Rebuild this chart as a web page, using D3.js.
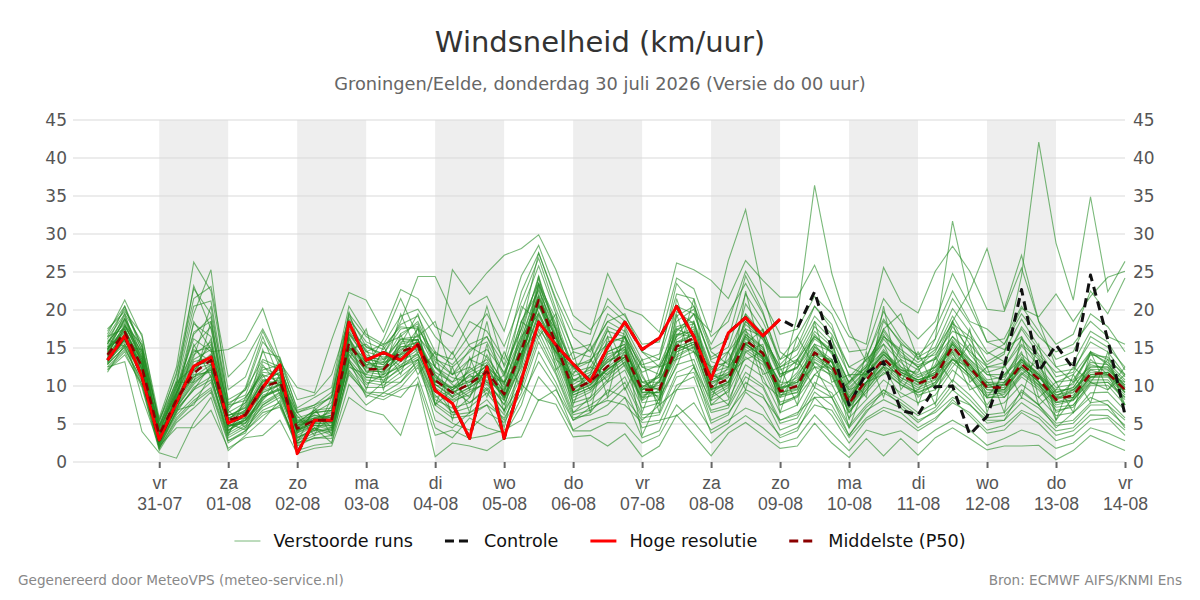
<!DOCTYPE html>
<html>
<head>
<meta charset="utf-8">
<script src="https://cdn.jsdelivr.net/npm/d3@7/dist/d3.min.js"></script>
<style>
  html, body { margin: 0; padding: 0; background: #fff; }
  svg { display: block; font-family: "DejaVu Sans", sans-serif; }
</style>
</head>
<body>
<svg id="chart" width="1200" height="600"></svg>
<script>
// ---------- DATA ----------
const title = "Windsnelheid (km/uur)";
const subtitle = "Groningen/Eelde, donderdag 30 juli 2026 (Versie do 00 uur)";
const footerLeft = "Gegenereerd door MeteoVPS (meteo-service.nl)";
const footerRight = "Bron: ECMWF AIFS/KNMI Ens";

const startTime = "2026-07-30T06:00:00Z";   // first forecast step
const stepHours = 6;

const tickDates = ["2026-07-31","2026-08-01","2026-08-02","2026-08-03","2026-08-04","2026-08-05","2026-08-06",
                   "2026-08-07","2026-08-08","2026-08-09","2026-08-10","2026-08-11","2026-08-12","2026-08-13","2026-08-14"];
const tickDay = ["vr","za","zo","ma","di","wo","do","vr","za","zo","ma","di","wo","do","vr"];
const tickDate = ["31-07","01-08","02-08","03-08","04-08","05-08","06-08","07-08","08-08","09-08","10-08","11-08","12-08","13-08","14-08"];
const shadedDays = ["2026-07-31","2026-08-02","2026-08-04","2026-08-06","2026-08-08","2026-08-10","2026-08-12"];
const yTicks = [0,5,10,15,20,25,30,35,40,45];

const hres = [13.4,16.6,11.2,2.9,7.8,12.6,13.8,5.1,6.2,9.8,12.8,1.1,5.5,5.5,18.4,13.4,14.4,13.4,15.5,9.4,
              7.7,3.1,12.5,3.1,10.8,18.4,15.4,12.9,10.6,15.1,18.4,14.8,16.3,20.5,16.5,10.9,17.0,19.0,16.6,18.8];
const controle = [13.4,16.6,11.2,2.9,7.8,12.6,13.8,5.1,6.2,9.8,12.8,1.1,5.5,5.5,18.4,13.4,14.4,13.4,15.5,9.4,
              7.7,3.1,12.5,3.1,10.8,18.4,15.4,12.9,10.6,15.1,18.4,14.8,16.3,20.5,16.5,10.9,17.0,19.0,16.6,18.8,
              17.6,22.4,14.9,7.5,11.7,13.2,6.8,6.2,9.9,10.0,3.6,6.0,12.5,22.7,11.9,15.4,12.3,24.6,16.1,6.2];
const p50 = [14.1,17.1,12.5,3.6,8.2,11.7,13.4,5.5,6.2,9.9,10.6,4.4,5.5,5.5,15.6,12.2,12.2,14.5,15.4,10.8,
             9.1,10.3,11.9,8.9,14.7,21.3,15.6,9.5,10.6,12.6,14.2,9.5,9.5,15.2,16.3,9.9,10.9,16.0,14.3,9.3,
             10.0,14.4,12.8,7.7,10.8,13.6,11.4,10.3,11.2,15.2,12.5,9.8,9.8,12.9,10.9,8.2,8.8,11.6,11.7,9.5];

const members = [
[15.2,18.5,13.8,4.1,9.5,18.2,16.5,6.1,7.2,12.5,11.3,5.2,6.8,7.1,17.8,14.1,13.2,16.9,18.2,12.4,10.2,8.5,14.1,10.2,16.8,24.5,17.2,11.3,12.1,15.8,16.4,11.2,8.1,18.5,20.1,13.2,12.5,20.8,17.4,11.6,12.3,16.8,14.2,9.1,11.8,16.2,13.5,12.1,13.8,18.6,14.2,11.5,10.8,15.3,12.6,9.8,10.2,14.3,13.1,10.8],
[13.1,16.2,11.5,2.8,7.1,10.5,12.1,4.8,5.1,8.8,9.6,3.5,4.8,4.2,14.2,11.5,11.1,13.2,14.8,9.5,7.8,9.2,10.5,7.6,12.8,19.5,14.2,8.1,9.2,11.5,13.1,8.2,10.8,14.1,15.2,8.5,9.8,14.5,12.8,7.9,8.6,13.1,11.2,6.5,9.5,12.2,10.1,9.2,10.2,13.8,11.3,8.4,8.9,11.6,9.8,7.2,7.5,10.3,10.5,8.2],
[16.5,20.1,15.2,5.2,11.8,22.8,19.5,8.2,9.5,15.8,13.2,7.1,8.5,9.8,20.5,16.8,15.5,19.2,20.1,16.5,14.2,18.5,17.2,13.5,22.4,27.5,21.2,14.5,13.8,19.5,17.8,13.4,14.2,22.1,21.5,14.8,16.2,24.5,19.8,12.8,15.2,20.5,18.1,11.2,13.5,19.8,16.2,13.8,15.1,20.2,17.1,13.2,14.5,18.8,15.2,12.5,13.1,17.2,15.8,12.1],
[12.2,14.5,9.8,1.5,5.2,7.1,9.2,2.5,4.1,6.5,7.2,2.1,3.2,3.1,11.5,9.1,8.6,9.8,12.5,6.8,5.1,4.2,6.5,5.2,9.1,15.8,11.5,5.8,6.2,7.5,9.8,4.5,5.2,10.1,11.2,5.1,6.2,10.5,8.8,4.2,5.1,9.2,7.5,3.5,6.8,8.2,7.1,5.2,6.8,9.5,7.6,5.1,5.5,7.8,6.2,4.1,4.5,6.8,6.9,4.8],
[14.8,17.8,14.5,3.2,8.8,14.1,15.8,5.8,6.8,10.5,11.8,4.8,5.5,6.2,16.2,13.1,12.8,15.5,16.1,11.2,9.8,12.1,13.5,9.5,15.5,22.1,16.5,10.2,11.5,13.8,15.1,10.1,9.5,16.1,17.5,10.8,11.8,17.2,15.1,10.1,11.1,15.2,13.5,8.5,11.2,14.5,12.2,11.1,12.1,16.1,13.2,10.5,10.1,13.8,11.5,8.8,9.2,12.5,12.5,10.1],
[16.8,21.3,16.5,5.8,12.5,26.3,22.5,9.5,11.2,17.2,12.5,6.5,7.2,8.5,19.2,15.2,14.2,17.5,17.8,13.2,11.5,14.8,15.8,11.2,18.5,23.5,18.8,12.2,13.2,17.2,16.5,12.5,11.5,19.8,18.2,12.1,14.5,19.5,16.8,11.2,13.5,17.8,15.5,10.2,12.5,17.5,14.1,12.5,14.5,19.2,15.5,12.8,14.2,24.5,42.1,28.8,21.3,34.9,22.4,26.4],
[15.5,19.2,14.1,3.8,10.2,19.5,25.3,7.5,8.1,13.2,12.1,5.5,6.1,5.8,17.2,14.5,13.8,14.2,16.8,12.5,11.1,10.5,12.8,9.8,14.2,20.5,17.5,9.8,10.5,14.2,14.8,9.8,11.2,16.5,17.8,11.5,10.5,15.5,13.8,9.8,10.2,14.8,13.1,8.2,10.5,13.8,11.8,10.8,11.8,15.8,12.8,10.1,9.5,12.8,11.2,8.5,8.5,11.2,11.8,9.2],
[12.5,13.2,4.0,1.2,0.5,5.2,8.5,1.5,3.5,5.5,8.1,1.5,2.2,2.5,10.2,7.5,9.1,8.5,11.2,4.5,3.2,5.8,4.5,3.8,8.5,13.2,9.8,4.2,5.5,6.2,8.5,3.2,4.1,9.5,9.8,3.8,5.1,9.2,7.2,3.2,4.1,8.5,6.1,2.5,5.5,6.8,5.8,4.1,5.5,8.2,6.1,3.8,4.2,6.5,5.1,2.8,3.5,5.5,5.8,3.5],
[14.2,18.1,13.5,4.5,9.8,16.2,14.5,14.8,16.0,20.2,13.5,8.2,8.8,11.5,18.8,15.8,14.8,18.1,19.2,14.5,12.8,15.5,16.5,12.8,19.8,25.8,19.5,13.5,14.8,18.5,17.2,12.8,13.5,20.5,19.5,13.8,15.1,22.1,18.5,13.5,14.8,19.2,16.8,12.5,13.8,18.8,15.5,14.1,16.2,21.5,18.2,14.5,13.2,17.5,14.1,11.8,12.2,15.8,14.5,11.5],
[13.5,15.8,12.8,2.5,6.5,9.8,11.2,4.1,5.5,7.8,9.2,3.1,4.5,3.8,13.5,10.8,10.5,12.5,13.8,8.8,6.5,7.2,9.1,6.2,11.5,18.2,13.1,7.2,8.1,10.5,12.1,7.1,7.8,12.8,13.5,7.5,8.2,12.8,11.2,6.5,7.5,11.5,10.2,5.8,8.2,10.8,9.1,7.8,8.8,12.1,10.1,7.2,7.8,10.2,8.5,6.1,6.5,9.1,9.2,6.8],
[14.5,17.5,12.1,3.5,8.5,13.2,13.8,5.2,5.8,9.2,10.1,4.1,5.1,5.2,15.5,12.8,12.5,14.8,15.8,11.5,9.5,11.5,12.5,9.2,15.1,21.8,16.1,9.5,10.8,13.2,14.5,9.8,11.5,17.2,19.5,17.1,26.5,33.2,22.1,14.5,12.8,16.5,14.8,9.8,12.1,15.5,13.1,11.2,12.5,16.5,13.5,10.8,11.2,14.2,12.1,9.1,9.8,13.1,12.8,10.5],
[13.8,16.8,12.2,2.2,7.5,11.2,12.8,4.5,6.5,10.8,10.2,4.5,6.2,5.5,16.5,11.8,11.5,13.8,15.1,10.2,8.5,9.8,11.2,8.5,13.8,20.8,15.2,8.8,9.8,12.2,13.8,8.8,9.2,15.5,16.8,9.5,10.2,15.8,14.5,8.8,9.5,13.8,12.2,7.5,10.2,13.2,11.1,9.8,10.8,14.5,12.1,9.5,9.2,12.5,10.5,7.8,8.2,11.1,11.2,8.8],
[15.1,17.2,13.2,3.1,8.1,12.8,13.1,5.5,6.1,9.5,11.1,4.5,5.8,6.5,15.8,12.5,12.1,14.1,15.5,10.8,9.2,10.1,11.8,8.8,14.5,21.2,15.5,9.2,10.1,12.5,14.2,9.1,9.8,15.1,16.1,9.8,11.1,16.2,14.1,10.5,19.1,36.4,24.8,17.4,13.2,16.8,12.5,10.5,11.8,15.5,12.2,10.1,10.5,13.5,11.2,8.5,9.1,12.1,11.5,9.1],
[12.8,15.2,10.5,2.1,6.2,8.5,10.5,3.5,4.8,7.2,8.5,2.8,3.8,4.5,12.8,9.8,9.8,11.2,13.1,7.8,6.2,6.5,8.2,5.5,10.5,17.2,12.5,6.5,7.5,9.1,11.2,6.2,6.5,11.8,12.8,6.8,7.5,11.8,10.1,5.5,6.2,10.5,9.1,4.8,7.5,9.5,8.2,6.5,7.8,10.8,8.8,6.2,6.5,9.2,7.5,5.1,5.5,7.8,8.1,5.8],
[14.8,18.8,14.8,4.2,9.1,15.2,17.8,6.5,7.8,12.1,12.8,5.8,6.5,7.8,17.5,15.1,14.1,18.5,24.4,24.4,19.5,15.2,13.8,10.5,16.2,23.2,18.2,11.8,12.5,16.5,15.8,11.8,12.8,17.8,18.5,12.5,13.2,18.5,16.2,12.1,13.2,17.2,15.2,10.5,12.8,17.2,13.8,12.8,13.5,17.8,14.8,11.8,12.5,16.2,13.8,10.5,10.8,14.1,13.8,11.2],
[13.2,16.5,11.8,2.5,7.2,10.2,12.5,4.2,5.5,8.5,9.8,3.8,4.8,4.8,14.8,11.2,10.8,12.2,14.5,12.5,25.3,22.1,24.9,27.2,28.1,29.9,25.3,19.3,17.4,20.5,18.5,14.5,12.5,16.8,17.2,11.2,11.5,16.8,14.8,9.5,10.5,14.5,13.2,8.5,11.2,14.1,12.1,10.8,11.5,15.1,12.8,9.8,10.2,13.2,11.5,8.2,8.8,11.5,11.8,9.5],
[12.1,14.1,10.2,1.8,5.8,8.1,9.8,3.2,4.5,6.8,7.8,2.5,3.5,4.1,11.8,8.8,8.2,9.5,10.2,0.7,2.5,2.1,1.5,3.1,3.3,8.2,7.6,3.3,3.5,2.1,3.7,0.7,2.1,6.2,3.5,0.8,3.8,5.2,3.5,1.8,2.1,5.1,2.5,0.6,3.1,0.8,3.1,0.9,3.2,4.5,3.1,1.6,2.1,2.1,2.2,0.3,1.5,3.5,2.5,1.5],
[16.2,19.5,15.8,4.8,10.8,20.5,21.2,7.8,8.8,14.5,13.8,6.8,7.5,9.2,19.5,16.5,15.2,17.8,17.5,14.2,13.5,16.8,19.5,15.2,21.1,26.8,20.1,14.8,15.5,21.5,19.2,15.5,15.8,24.2,22.8,16.5,18.5,25.1,21.2,16.8,17.5,21.8,19.5,14.5,14.8,21.5,18.5,16.2,18.5,24.8,20.5,15.8,16.2,20.5,17.2,13.5,14.5,19.5,17.8,14.5],
[13.6,16.1,11.1,2.9,7.8,11.5,11.8,4.8,5.2,8.1,10.5,4.2,5.2,4.8,14.5,12.1,11.8,13.5,14.2,9.2,8.1,8.8,10.8,7.5,13.2,19.8,14.5,8.5,9.5,11.8,13.5,8.5,8.8,14.5,15.5,8.8,10.1,15.2,13.5,8.5,9.2,13.2,11.8,7.1,9.8,12.8,10.8,9.5,10.5,14.2,11.8,9.1,9.5,12.2,10.2,7.5,8.1,10.8,10.8,8.5],
[14.1,16.8,12.8,3.5,8.2,11.2,12.1,5.1,4.2,7.5,9.1,3.2,4.1,5.8,13.2,10.2,11.5,12.5,13.5,8.5,9.5,7.8,9.5,6.8,10.2,8.1,9.5,5.5,7.2,8.1,7.5,5.2,5.5,6.1,7.8,4.2,5.5,7.1,6.2,3.5,4.5,7.5,6.8,3.2,5.8,7.2,6.5,4.5,5.8,7.8,6.5,4.2,4.8,6.8,5.8,3.5,4.1,6.2,6.1,4.2],
[15.8,18.2,13.1,4.8,9.2,17.1,18.5,7.2,8.5,11.8,11.5,5.1,6.8,8.8,18.1,13.5,13.1,16.2,16.5,13.8,11.5,13.5,14.8,11.8,17.5,24.1,17.8,12.8,13.2,17.8,16.8,10.5,10.5,19.2,20.5,14.5,12.8,18.5,16.5,12.5,14.1,18.5,16.1,11.5,11.5,18.5,15.8,13.5,14.1,17.2,16.2,12.5,13.1,17.8,14.8,11.2,11.8,16.5,15.1,12.5],
[12.5,14.8,10.8,2.3,6.8,9.5,10.8,3.8,5.1,7.5,8.8,3.3,4.2,4.2,13.1,10.5,10.1,11.8,13.5,8.2,7.1,7.8,9.8,6.8,12.1,18.8,13.8,7.8,8.5,10.8,12.8,7.8,8.2,13.5,14.5,8.1,9.2,13.8,12.1,7.5,8.8,12.5,11.5,6.8,9.1,11.8,10.2,8.8,9.5,13.1,11.1,8.5,8.5,11.2,9.5,6.8,7.2,10.1,10.1,7.5],
[14.3,17.6,12.6,3.3,8.6,12.1,14.2,5.8,6.5,10.2,10.8,4.8,5.8,6.1,16.1,12.5,12.5,15.1,15.8,11.1,9.5,10.8,12.2,9.2,15.2,21.5,16.2,9.8,11.1,13.1,14.8,9.5,10.1,15.8,16.8,10.2,11.5,16.8,15.1,9.8,10.5,15.1,13.1,8.1,11.5,14.2,12.1,11.8,16.2,31.7,21.5,15.8,14.8,16.5,12.5,9.2,9.8,12.8,12.2,10.1],
[13.9,17.3,12.3,3.6,8.3,12.4,13.5,5.4,6.3,9.9,10.5,4.3,5.4,5.3,15.2,12.3,12.2,14.3,15.2,10.6,9.1,10.2,11.5,8.6,14.1,20.5,15.1,9.2,10.5,12.1,13.8,9.2,9.1,14.8,15.8,9.5,10.5,15.5,13.8,9.1,9.8,14.1,12.5,7.8,10.5,13.5,11.5,10.2,12.8,18.5,22.5,28.1,20.1,27.2,18.5,12.5,10.5,14.5,12.8,9.8],
[14.6,18.8,13.5,3.9,9.1,14.5,15.1,6.1,7.1,11.2,12.1,5.1,5.5,6.8,16.8,13.8,13.5,16.1,16.1,11.8,10.5,11.8,13.1,10.1,16.1,22.8,16.8,10.8,11.8,14.5,15.5,10.5,11.1,17.5,18.2,11.8,12.5,18.1,16.1,11.2,12.5,16.2,14.5,9.5,12.1,16.5,14.8,13.1,14.8,18.2,16.5,14.2,15.5,20.2,19.1,22.1,18.5,21.8,24.3,25.1],
[13.3,15.5,11.2,2.6,7.3,10.8,12.3,4.6,5.6,8.6,9.5,3.9,4.9,4.5,14.1,11.1,11.2,12.8,14.1,9.8,8.2,9.5,10.2,8.1,13.5,19.2,14.8,8.8,9.8,11.2,13.2,8.1,9.5,13.8,15.1,9.1,10.5,14.8,13.2,8.8,9.1,13.5,12.1,7.2,10.1,12.5,10.5,9.1,10.1,13.5,11.5,8.8,9.1,11.8,10.1,7.8,8.2,10.5,10.5,8.5],
[15.1,16.5,8.5,2.1,4.5,4.5,6.8,1.8,3.2,3.5,5.5,1.1,1.8,2.1,8.5,6.8,6.2,3.5,10.5,3.5,4.2,3.1,3.5,4.2,5.5,11.2,8.5,4.1,4.1,5.2,5.1,2.5,3.5,7.5,5.2,2.5,4.5,6.1,4.5,2.5,3.2,6.2,3.8,1.5,4.2,3.5,4.1,2.5,4.2,5.5,4.2,2.2,3.1,4.2,3.5,1.8,2.5,4.5,3.8,2.8],
[17.2,20.5,14.5,5.5,11.5,21.5,23.1,11.2,13.5,17.5,13.1,9.8,9.1,16.1,22.3,21.3,17.1,22.7,21.5,17.8,16.5,20.5,21.8,17.2,24.5,28.5,22.5,17.5,16.8,24.8,20.2,19.3,17.1,26.2,25.3,23.9,21.5,26.5,23.9,21.7,21.7,25.9,20.5,16.5,15.5,25.6,21.1,19.6,25.1,28.4,25.1,20.1,19.8,25.5,18.5,15.5,16.8,22.5,19.5,24.2],
[14.4,17.9,13.8,2.9,8.9,13.5,14.8,5.1,6.9,10.8,11.1,4.8,6.5,6.8,15.1,13.2,12.2,15.8,16.1,10.1,9.8,10.5,12.8,8.1,15.8,21.8,16.5,10.8,10.2,13.5,15.2,9.8,8.5,16.8,16.5,10.5,11.2,16.5,14.5,9.5,10.8,14.1,13.5,8.8,11.5,14.8,11.8,10.5,11.1,15.8,12.9,10.2,10.1,13.1,11.8,8.8,9.5,12.2,12.1,9.8],
[12.9,15.1,10.1,1.8,5.5,7.8,9.5,2.8,4.1,6.1,7.5,2.5,3.1,3.5,12.1,9.2,9.1,10.5,12.8,7.5,5.8,6.1,7.5,5.8,9.8,16.5,11.8,6.2,6.8,8.5,10.5,5.8,6.2,11.2,11.8,6.5,7.1,11.2,9.8,5.1,5.8,9.8,8.5,4.5,7.2,9.1,7.8,6.1,7.2,10.2,8.2,5.8,6.1,8.5,7.1,4.8,5.1,7.5,7.5,5.5],
[14.8,19.5,12.8,2.2,6.5,15.5,11.2,3.5,8.5,11.5,7.5,2.5,7.2,3.5,13.5,17.5,9.5,16.8,11.5,14.5,5.5,13.8,8.5,14.5,9.5,23.5,12.1,14.5,6.5,16.5,9.5,13.5,6.5,19.5,12.5,8.1,14.5,9.5,17.5,6.5,13.5,9.8,16.5,5.5,14.5,8.5,15.5,7.5,13.8,10.5,17.5,6.5,12.8,8.5,15.5,5.5,11.5,7.8,14.5,6.5],
[16.1,15.2,14.8,4.5,10.5,10.5,18.5,4.2,5.8,14.8,8.8,6.1,3.5,8.5,16.5,9.5,15.2,11.5,17.8,7.5,12.5,6.5,15.5,6.5,18.5,16.5,19.5,7.5,13.5,10.5,16.5,6.5,12.5,13.5,21.5,7.5,9.5,19.5,11.5,12.5,7.5,18.5,10.5,11.5,8.5,20.5,9.5,12.5,7.5,18.5,10.5,12.5,6.5,16.5,8.5,10.5,6.5,14.5,9.5,12.5],
[13.0,17.9,15.5,3.1,9.1,13.8,20.5,6.8,4.5,9.5,13.5,3.8,6.8,4.5,17.1,13.5,11.5,19.5,14.2,10.5,14.5,9.5,18.5,8.5,12.5,24.5,13.5,11.5,15.5,8.5,17.5,11.5,7.5,21.5,14.5,12.5,8.5,22.5,13.5,9.5,16.5,12.5,8.5,10.5,13.5,15.5,10.5,14.5,9.5,12.5,15.5,8.5,11.5,14.5,7.5,9.5,12.5,10.5,13.5,7.5],
[15.6,18.9,14.1,3.9,7.9,18.5,14.8,5.5,7.5,12.8,9.8,5.5,5.2,6.2,14.8,15.5,13.5,14.5,17.5,7.5,9.5,11.5,9.5,11.5,16.5,19.5,15.5,9.5,11.5,17.5,12.5,8.5,10.5,15.5,14.5,11.5,13.5,17.5,10.5,8.5,11.5,14.5,11.5,6.5,9.5,12.5,8.5,9.5,12.5,14.5,9.5,10.5,8.5,11.5,13.5,6.5,7.5,10.5,9.5,11.5],
[12.8,16.2,12.1,2.5,8.5,11.8,16.2,3.8,6.8,10.5,11.8,2.2,4.5,2.5,12.5,11.5,14.5,12.5,16.2,9.8,6.5,8.5,12.5,4.5,13.5,23.5,17.5,6.5,8.5,14.5,15.5,3.5,8.5,12.5,18.5,9.5,7.5,14.5,15.5,7.5,8.5,11.5,13.5,4.5,10.5,11.5,13.5,8.5,10.5,13.5,11.5,7.5,10.5,12.5,10.5,5.5,8.5,13.5,11.5,7.5],
[17.5,19.8,16.8,4.8,10.1,23.2,17.5,6.8,9.8,16.5,10.8,4.2,6.5,6.8,19.8,12.5,16.2,21.5,16.5,18.5,11.5,12.5,20.5,12.5,17.5,27.5,21.5,16.5,14.5,18.5,19.5,14.5,13.5,23.5,20.5,15.5,19.5,23.5,19.5,13.5,16.5,20.5,17.5,12.5,11.5,17.5,19.5,13.5,17.5,22.5,18.5,17.5,15.5,19.5,16.5,14.5,15.5,18.5,16.5,15.5],
[14.0,16.0,12.9,3.0,7.0,9.5,12.8,4.8,5.5,8.2,11.5,5.2,5.8,5.2,15.1,12.8,13.1,13.8,15.5,11.5,8.5,12.5,10.5,9.5,14.5,17.5,14.5,10.5,12.5,11.5,14.5,10.5,9.5,14.5,15.5,10.5,11.5,13.5,14.5,10.5,10.5,12.5,12.5,9.5,10.5,12.5,11.5,10.5,11.5,13.5,12.5,10.5,10.5,12.5,11.5,9.5,9.5,11.5,11.5,10.5],
[16.5,17.5,13.1,4.5,8.8,16.8,19.1,5.5,7.8,11.5,10.5,6.5,4.1,7.5,16.8,14.8,10.5,15.5,19.5,12.5,10.5,13.5,12.5,10.5,20.5,18.5,14.5,12.5,9.5,12.5,16.5,9.5,11.5,17.5,16.5,9.5,12.5,15.5,17.5,11.5,12.5,15.5,14.5,7.5,12.5,14.5,12.5,11.5,12.5,15.5,13.5,11.5,11.5,13.5,10.5,8.5,10.5,12.5,12.5,9.5],
[11.8,15.5,11.5,1.8,6.8,7.5,11.5,2.8,3.8,8.5,9.5,2.8,4.5,3.5,13.5,8.5,10.5,10.5,13.5,5.5,4.5,6.5,7.5,3.5,7.5,14.5,10.5,5.5,6.5,9.5,8.5,5.5,7.5,9.5,12.5,5.5,6.5,9.5,8.5,5.5,6.5,8.5,8.5,3.5,6.5,9.5,7.5,5.5,6.5,8.5,7.5,5.5,5.5,9.5,7.5,4.5,6.5,8.5,7.5,4.5],
[14.9,17.0,13.5,3.4,9.8,14.8,13.2,6.2,6.5,9.1,10.2,4.1,5.6,5.9,14.8,13.8,12.8,15.2,15.2,10.5,9.8,11.2,11.5,10.5,13.8,20.5,16.5,10.8,11.2,13.5,13.8,9.5,10.5,15.8,16.2,11.2,12.2,16.5,13.5,9.5,11.8,15.5,12.5,8.5,11.8,14.2,11.8,10.8,11.5,15.5,12.5,9.8,9.8,13.5,11.5,8.2,9.5,11.8,11.8,9.5],
[15.5,20.5,15.1,5.5,10.5,12.5,15.5,7.5,9.5,13.5,12.5,6.5,7.5,8.5,18.5,14.5,15.5,16.5,18.5,13.5,12.5,14.5,16.5,11.5,18.5,22.5,17.5,12.5,13.5,15.5,16.5,12.5,12.5,16.5,19.5,13.5,14.5,17.5,16.5,12.5,13.5,16.5,14.5,10.5,12.5,16.5,14.5,12.5,13.5,16.5,14.5,12.5,12.5,15.5,13.5,10.5,11.5,14.5,13.5,11.5],
[13.4,16.4,12.4,2.7,7.7,12.2,12.9,5.1,5.9,9.4,10.2,4.1,5.1,5.1,14.9,11.9,11.9,14.1,14.9,10.2,8.7,9.8,11.4,8.4,14.2,20.9,15.2,9.1,10.2,12.2,13.8,9.1,9.2,14.8,15.8,9.6,10.5,15.6,13.9,9.1,9.6,14.1,12.5,7.4,10.5,13.2,11.1,10.1,10.9,14.8,12.2,9.5,9.5,12.5,10.6,7.9,8.5,11.2,11.4,9.2]
];

const legendItems = [
  {label: "Verstoorde runs", key: "ens"},
  {label: "Controle", key: "ctrl"},
  {label: "Hoge resolutie", key: "hres"},
  {label: "Middelste (P50)", key: "p50"}
];

// ---------- STYLE ----------
const M = {left: 73, right: 1125, top: 120, bottom: 462};
const styles = {
  ens:  {stroke: "#228B22", width: 1.1, opacity: 0.6, dash: null},
  ctrl: {stroke: "#111111", width: 3, opacity: 1, dash: "9,6"},
  hres: {stroke: "#ff0000", width: 3, opacity: 1, dash: null},
  p50:  {stroke: "#8b0000", width: 2.5, opacity: 1, dash: "8,6"}
};

const svg = d3.select("#chart");
const parse = d3.utcParse("%Y-%m-%d");
const t0 = new Date(startTime);
const timeAt = i => new Date(t0.getTime() + i * stepHours * 3600 * 1000);

const x = d3.scaleUtc()
  .domain([new Date("2026-07-29T18:00:00Z"), new Date("2026-08-14T00:00:00Z")])
  .range([M.left, M.right]);
const y = d3.scaleLinear().domain([0, 45]).range([M.bottom, M.top]);

// title
svg.append("text").attr("x", 600).attr("y", 52).attr("text-anchor", "middle")
  .attr("font-size", 29).attr("fill", "#333").text(title);
svg.append("text").attr("x", 600).attr("y", 90).attr("text-anchor", "middle")
  .attr("font-size", 17.8).attr("fill", "#666").text(subtitle);

// shaded days
svg.append("g").selectAll("rect").data(shadedDays).join("rect")
  .attr("x", d => x(parse(d)))
  .attr("width", d => x(d3.utcDay.offset(parse(d), 1)) - x(parse(d)))
  .attr("y", M.top).attr("height", M.bottom - M.top)
  .attr("fill", "#eeeeee");

// grid
svg.append("g").selectAll("line").data(yTicks).join("line")
  .attr("x1", M.left).attr("x2", M.right)
  .attr("y1", d => y(d)).attr("y2", d => y(d))
  .attr("stroke", "#d9d9d9").attr("stroke-width", 1);

// y axes (left & right)
const yl = svg.append("g").attr("transform", `translate(${M.left},0)`)
  .call(d3.axisLeft(y).tickValues(yTicks).tickSize(0).tickPadding(6));
const yr = svg.append("g").attr("transform", `translate(${M.right},0)`)
  .call(d3.axisRight(y).tickValues(yTicks).tickSize(0).tickPadding(8));
[yl, yr].forEach(g => {
  g.select(".domain").remove();
  g.selectAll("text").attr("font-size", 17).attr("fill", "#555").attr("font-family", "DejaVu Sans");
});

// x axis
const xa = svg.append("g").attr("transform", `translate(0,${M.bottom})`)
  .call(d3.axisBottom(x).tickValues(tickDates.map(parse)).tickSize(6).tickFormat(() => ""));
xa.select(".domain").remove();
xa.selectAll(".tick line").attr("stroke", "#666").attr("stroke-width", 2);
xa.selectAll(".tick").each(function(d, i) {
  const g = d3.select(this);
  g.select("text").remove();
  g.append("text").attr("y", 27).attr("text-anchor", "middle").attr("font-size", 17.6)
    .attr("fill", "#555").text(tickDay[i]);
  g.append("text").attr("y", 48).attr("text-anchor", "middle").attr("font-size", 17.6)
    .attr("fill", "#555").text(tickDate[i]);
});

// lines
const line = d3.line().x((d, i) => x(timeAt(i))).y(d => y(d));
const plot = svg.append("g");
plot.selectAll("path.ens").data(members).join("path").attr("class", "ens")
  .attr("d", line).attr("fill", "none")
  .attr("stroke", styles.ens.stroke).attr("stroke-width", styles.ens.width)
  .attr("stroke-opacity", styles.ens.opacity);
function drawSeries(data, st) {
  plot.append("path").datum(data).attr("d", line).attr("fill", "none")
    .attr("stroke", st.stroke).attr("stroke-width", st.width)
    .attr("stroke-dasharray", st.dash).attr("stroke-linejoin", "round");
}
drawSeries(controle, styles.ctrl);
drawSeries(hres, styles.hres);
drawSeries(p50, styles.p50);

// legend
const lg = svg.append("g");
let lx = 0;
legendItems.forEach(it => {
  const g = lg.append("g").attr("transform", `translate(${lx},0)`);
  const st = styles[it.key];
  g.append("line").attr("x1", 0).attr("x2", 26).attr("y1", 0).attr("y2", 0)
    .attr("stroke", st.stroke).attr("stroke-width", it.key === "ens" ? 1 : 3)
    .attr("stroke-opacity", st.opacity).attr("stroke-dasharray", st.dash ? "9,5" : null);
  const t = g.append("text").attr("x", 39).attr("y", 6).attr("font-size", 17.6)
    .attr("fill", "#111").text(it.label);
  lx += 39 + t.node().getComputedTextLength() + 32;
});
const lw = lx - 32;
lg.attr("transform", `translate(${600 - lw / 2},541)`);

// footer
svg.append("text").attr("x", 18).attr("y", 585).attr("font-size", 13.6).attr("fill", "#888").text(footerLeft);
svg.append("text").attr("x", 1182).attr("y", 585).attr("text-anchor", "end").attr("font-size", 13.6).attr("fill", "#888").text(footerRight);
</script>
</body>
</html>
